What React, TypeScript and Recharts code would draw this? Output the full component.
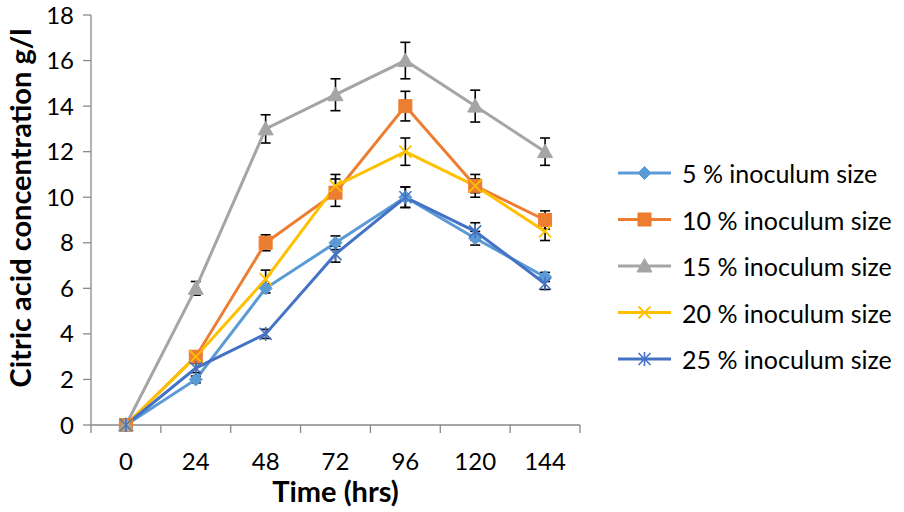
import React from 'react';
import { LineChart, Line, XAxis, YAxis, ErrorBar, Legend, Label } from 'recharts';

// ---- Data ----
const times = [0, 24, 48, 72, 96, 120, 144];
const xBoundaryTicks = [-12, 12, 36, 60, 84, 108, 132, 156];
const yTicks = [0, 2, 4, 6, 8, 10, 12, 14, 16, 18];

const seriesNames = [
  '5 % inoculum size',
  '10 % inoculum size',
  '15 % inoculum size',
  '20 % inoculum size',
  '25 % inoculum size',
];

const inoc5 = [0, 2, 6, 8, 10, 8.2, 6.5];
const inoc10 = [0, 3, 8, 10.2, 14, 10.5, 9];
const inoc15 = [0, 6, 13, 14.5, 16, 14, 12];
const inoc20 = [0, 3, 6.4, 10.5, 12, 10.5, 8.5];
const inoc25 = [0, 2.5, 4, 7.5, 10, 8.5, 6.2];

const err5 = [null, 0.15, 0.2, 0.3, 0.45, 0.3, 0.2];
const err10 = [null, 0.2, 0.35, 0.6, 0.65, 0.5, 0.4];
const err15 = [null, 0.3, 0.62, 0.7, 0.8, 0.7, 0.6];
const err20 = [null, 0.2, 0.4, 0.5, 0.6, 0.3, 0.4];
const err25 = [null, 0.2, 0.2, 0.35, 0.45, 0.38, 0.25];

const colors = ['#5B9BD5', '#ED7D31', '#A5A5A5', '#FFC000', '#4472C4'];
const markers = ['diamond', 'square', 'triangle', 'x', 'star'];

const data = times.map((t, i) => ({
  time: t,
  s5: inoc5[i],
  s10: inoc10[i],
  s15: inoc15[i],
  s20: inoc20[i],
  s25: inoc25[i],
  e5: err5[i],
  e10: err10[i],
  e15: err15[i],
  e20: err20[i],
  e25: err25[i],
}));

const FONT = 'Lato, "Open Sans", sans-serif';
const AXIS_COLOR = '#898989';

function markerShape(kind: string, cx: number, cy: number, color: string, key?: any) {
  switch (kind) {
    case 'diamond': {
      const r = 6.5;
      return (
        <path key={key} d={`M${cx},${cy - r}L${cx + r},${cy}L${cx},${cy + r}L${cx - r},${cy}Z`} fill={color} stroke={color} strokeWidth={1} />
      );
    }
    case 'square': {
      const r = 6.5;
      return <rect key={key} x={cx - r} y={cy - r} width={2 * r} height={2 * r} fill={color} stroke={color} strokeWidth={1} />;
    }
    case 'triangle': {
      const r = 7.5;
      return (
        <path key={key} d={`M${cx},${cy - r}L${cx + r},${cy + r * 0.8}L${cx - r},${cy + r * 0.8}Z`} fill={color} stroke={color} strokeWidth={1} />
      );
    }
    case 'x': {
      const r = 6;
      return (
        <g key={key} stroke={color} strokeWidth={1.8}>
          <line x1={cx - r} y1={cy - r} x2={cx + r} y2={cy + r} />
          <line x1={cx - r} y1={cy + r} x2={cx + r} y2={cy - r} />
        </g>
      );
    }
    case 'star':
    default: {
      const r = 6;
      return (
        <g key={key} stroke={color} strokeWidth={1.6}>
          <line x1={cx - r} y1={cy - r} x2={cx + r} y2={cy + r} />
          <line x1={cx - r} y1={cy + r} x2={cx + r} y2={cy - r} />
          <line x1={cx} y1={cy - r - 1} x2={cx} y2={cy + r + 1} />
        </g>
      );
    }
  }
}

const makeDot = (idx: number) => (props: any) => {
  const { cx, cy, index } = props;
  if (cx == null || cy == null) return <g key={`d-${idx}-${index}`} />;
  return markerShape(markers[idx], cx, cy, colors[idx], `d-${idx}-${index}`);
};

const XTick = (props: any) => {
  const { x, y, payload } = props;
  const v = payload.value;
  if (xBoundaryTicks.includes(v)) {
    return <line x1={x} y1={y} x2={x} y2={y + 8} stroke={AXIS_COLOR} strokeWidth={1.3} />;
  }
  return (
    <text x={x} y={y + 45} textAnchor="middle" fill="#000" fontSize={24} fontFamily={FONT}>
      {v}
    </text>
  );
};

const renderLegend = () => (
  <svg width={290} height={240} style={{ display: 'block' }}>
    {seriesNames.map((name, i) => {
      const cy = 23 + i * 46.5;
      return (
        <g key={name}>
          <line x1={6} y1={cy} x2={59} y2={cy} stroke={colors[i]} strokeWidth={3} />
          {markerShape(markers[i], 32.5, cy, colors[i])}
          <text x={70} y={cy} dominantBaseline="central" fontSize={25} fontFamily={FONT} fill="#000">
            {name}
          </text>
        </g>
      );
    })}
  </svg>
);

const keys = ['s5', 's10', 's15', 's20', 's25'];
const errKeys = ['e5', 'e10', 'e15', 'e20', 'e25'];

export default function App() {
  return (
    <div style={{ position: 'absolute', left: 0, top: 0, width: 904, height: 512, background: '#fff' }}>
      <LineChart width={904} height={512} data={data} margin={{ top: 15, right: 324, bottom: 0, left: 0 }}>
        <XAxis
          dataKey="time"
          type="number"
          domain={[-12, 156]}
          ticks={[-12, 0, 12, 24, 36, 48, 60, 72, 84, 96, 108, 120, 132, 144, 156]}
          interval={0}
          tickLine={false}
          tickSize={0}
          tickMargin={0}
          tick={<XTick />}
          height={87}
          axisLine={{ stroke: AXIS_COLOR, strokeWidth: 1.3 }}
        >
          <Label
            content={(p: any) => {
              const vb = p.viewBox;
              return (
                <text x={vb.x + vb.width / 2} y={vb.y + 77} textAnchor="middle" fontSize={29} fontWeight="bold" fontFamily={FONT} fill="#000">
                  Time (hrs)
                </text>
              );
            }}
          />
        </XAxis>
        <YAxis
          type="number"
          domain={[0, 18]}
          ticks={yTicks}
          interval={0}
          width={91}
          tickSize={8}
          tickMargin={9}
          tickLine={{ stroke: AXIS_COLOR, strokeWidth: 1.3 }}
          axisLine={{ stroke: AXIS_COLOR, strokeWidth: 1.3 }}
          tick={{ fill: '#000', fontSize: 24, fontFamily: FONT }}
        >
          <Label
            content={(p: any) => {
              const vb = p.viewBox;
              const cx = vb.x + 19;
              const cy = vb.y + vb.height / 2 - 12;
              return (
                <text transform={`translate(${cx},${cy}) rotate(-90)`} textAnchor="middle" dominantBaseline="central" fontSize={29} fontWeight="bold" fontFamily={FONT} fill="#000">
                  Citric acid concentration g/l
                </text>
              );
            }}
          />
        </YAxis>
        <Legend
          layout="horizontal"
          align="center"
          verticalAlign="middle"
          content={renderLegend}
          wrapperStyle={{ left: 612, top: 150, width: 290, height: 240 }}
        />
        {keys.map((k, i) => (
          <Line
            key={k}
            dataKey={k}
            name={seriesNames[i]}
            stroke={colors[i]}
            strokeWidth={3}
            dot={makeDot(i)}
            activeDot={false}
            isAnimationActive={false}
          >
            <ErrorBar dataKey={errKeys[i]} width={5} stroke="#000" strokeWidth={1.6} direction="y" />
          </Line>
        ))}
      </LineChart>
    </div>
  );
}
